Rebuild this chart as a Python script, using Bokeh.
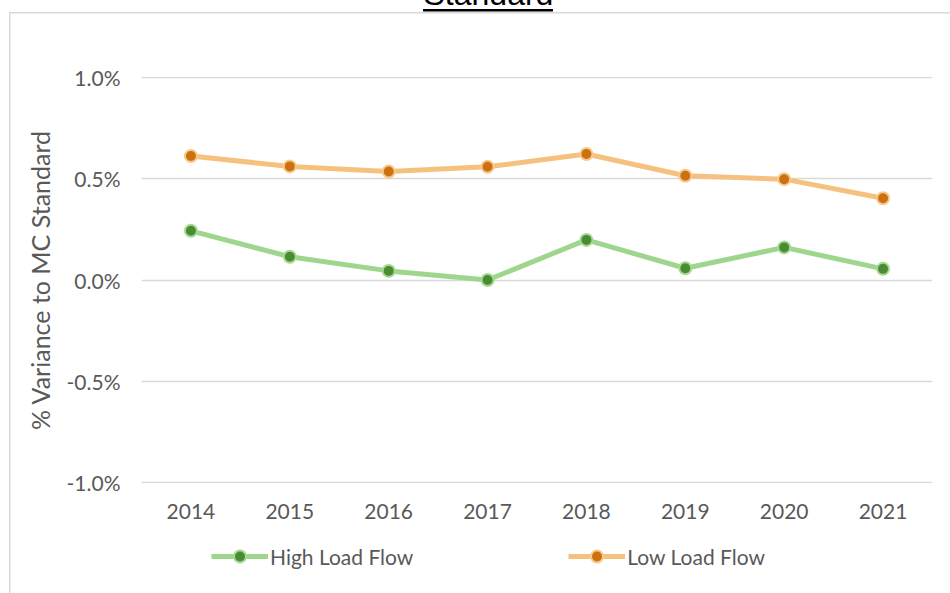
from bokeh.plotting import figure
from bokeh.layouts import column
from bokeh.models import (ColumnDataSource, FixedTicker, PrintfTickFormatter,
                          Legend, LegendItem, Title)
from bokeh.embed import file_html
from bokeh.resources import INLINE

years = ["2014", "2015", "2016", "2017", "2018", "2019", "2020", "2021"]
high_load = [0.243, 0.115, 0.045, 0.0, 0.198, 0.058, 0.161, 0.055]
low_load = [0.612, 0.561, 0.536, 0.559, 0.622, 0.515, 0.498, 0.404]
y_ticks = [-1.0, -0.5, 0.0, 0.5, 1.0]
title_text = "Standard"
y_label = "% Variance to MC Standard"
series_names = ["High Load Flow", "Low Load Flow"]

FONT = "Lato"
TXT = "#595959"
GREEN_LINE, GREEN_FILL, GREEN_EDGE = "#9FD68E", "#4A8C33", "#A6DA94"
ORANGE_LINE, ORANGE_FILL, ORANGE_EDGE = "#F6C17F", "#CC7110", "#F8C88C"

SHIFT = 100         # the chart title lies mostly above the visible window
W = 950
H1 = 535 + SHIFT
H2 = 58

src = ColumnDataSource(dict(x=years, hi=high_load, lo=low_load))

p = figure(width=W, height=H1, x_range=years, y_range=(-1.005, 1.005),
           output_backend="svg", toolbar_location=None,
           min_border_left=141, min_border_right=18,
           min_border_top=76 + SHIFT, min_border_bottom=52)
p.title = Title(text=title_text, align="left", text_font="Liberation Sans",
                text_font_size="32px", text_font_style="normal",
                text_color="black", standoff=130, offset=282)
p.outline_line_color = None
p.background_fill_color = "white"
p.border_fill_alpha = 0


def draw_series(fig):
    a = fig.line("x", "hi", source=src, line_color=GREEN_LINE, line_width=5)
    b = fig.scatter("x", "hi", source=src, size=12, fill_color=GREEN_FILL,
                    line_color=GREEN_EDGE, line_width=2)
    c = fig.line("x", "lo", source=src, line_color=ORANGE_LINE, line_width=5)
    d = fig.scatter("x", "lo", source=src, size=12, fill_color=ORANGE_FILL,
                    line_color=ORANGE_EDGE, line_width=2)
    return a, b, c, d


draw_series(p)

# axes
p.yaxis.ticker = FixedTicker(ticks=y_ticks)
p.yaxis.formatter = PrintfTickFormatter(format="%.1f%%")
for ax in (p.xaxis[0], p.yaxis[0]):
    ax.axis_line_color = None
    ax.major_tick_line_color = None
    ax.minor_tick_line_color = None
    ax.major_tick_out = 0
    ax.major_tick_in = 0
    ax.major_label_text_font = FONT
    ax.major_label_text_font_size = "21px"
    ax.major_label_text_color = TXT
p.xaxis.major_label_standoff = 20
p.yaxis.major_label_standoff = 21
p.yaxis.axis_label = y_label
p.yaxis.axis_label_text_font = FONT
p.yaxis.axis_label_text_font_size = "25px"
p.yaxis.axis_label_text_font_style = "normal"
p.yaxis.axis_label_text_color = TXT
p.yaxis.axis_label_standoff = 9

p.xgrid.grid_line_color = None
p.ygrid.grid_line_color = "#D9D9D9"
p.ygrid.grid_line_width = 1.5

# legend strip below the chart (series drawn out of view, only the legend shows)
p2 = figure(width=W, height=H2, x_range=years, y_range=(5, 6),
            x_axis_type=None, y_axis_type=None,
            output_backend="svg", toolbar_location=None,
            min_border=0)
p2.outline_line_color = None
p2.background_fill_alpha = 0
p2.border_fill_alpha = 0
g1, g2, o1, o2 = draw_series(p2)
legend = Legend(items=[LegendItem(label=series_names[0], renderers=[g1, g2]),
                       LegendItem(label=series_names[1], renderers=[o1, o2])],
                orientation="horizontal", location=(70, 22),
                glyph_width=57, glyph_height=30, label_standoff=2,
                spacing=155, padding=0, margin=0,
                border_line_color=None, background_fill_alpha=0,
                label_text_font=FONT, label_text_font_size="21px",
                label_text_color=TXT)
p2.add_layout(legend)

y0 = 11.5 + SHIFT
layout = column(p, p2, spacing=0)
layout.styles = {
    "margin-top": f"-{SHIFT}px",
    "background": (
        f"linear-gradient(#D9D9D9,#D9D9D9) 9px {y0}px / 1.5px 800px no-repeat, "
        f"linear-gradient(#D9D9D9,#D9D9D9) 9px {y0}px / 941px 1.5px no-repeat, "
        f"linear-gradient(#000,#000) 423px {8.5 + SHIFT}px / 130px 2.5px no-repeat, #fff"),
}

open("out.html", "w").write(file_html(layout, INLINE))
